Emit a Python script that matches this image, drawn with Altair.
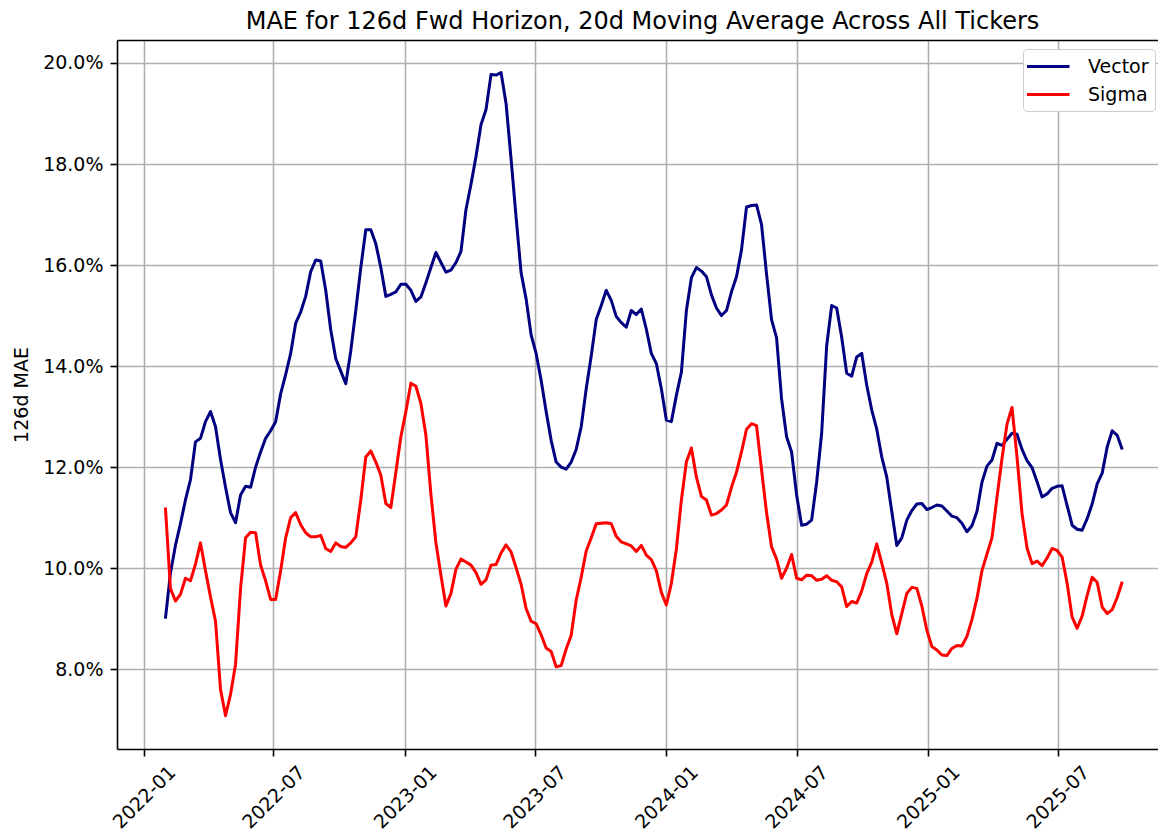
import altair as alt
import pandas as pd

# ---------------- data (weekly samples) ----------------
START_DATE = "2022-01-31"

vector = [
    9.0, 9.9, 10.45, 10.88, 11.35, 11.75, 12.5, 12.57, 12.9, 13.1,
    12.8, 12.15, 11.6, 11.1, 10.9, 11.45, 11.62, 11.6, 12.0, 12.3,
    12.57, 12.72, 12.9, 13.45, 13.83, 14.25, 14.85, 15.07, 15.38, 15.87,
    16.1, 16.08, 15.5, 14.72, 14.15, 13.9, 13.65, 14.3, 15.1, 15.95,
    16.7, 16.7, 16.42, 15.95, 15.38, 15.42, 15.47, 15.62, 15.62, 15.5,
    15.28, 15.37, 15.65, 15.95, 16.25, 16.05, 15.86, 15.9, 16.05, 16.27,
    17.1, 17.6, 18.15, 18.78, 19.08, 19.77, 19.76, 19.81, 19.2, 18.1,
    16.95, 15.85, 15.33, 14.62, 14.25, 13.72, 13.1, 12.53, 12.1, 12.0,
    11.96, 12.1, 12.35, 12.8, 13.55, 14.2, 14.92, 15.2, 15.5, 15.3,
    14.98, 14.86, 14.77, 15.1, 15.02, 15.13, 14.73, 14.25, 14.05, 13.55,
    12.93, 12.9, 13.42, 13.88, 15.1, 15.75, 15.95, 15.88, 15.77, 15.41,
    15.15, 15.0, 15.1, 15.47, 15.77, 16.3, 17.15, 17.18, 17.19, 16.8,
    15.82, 14.92, 14.56, 13.35, 12.6, 12.3, 11.45, 10.85, 10.87, 10.95,
    11.7, 12.67, 14.4, 15.2, 15.15, 14.57, 13.86, 13.8, 14.18, 14.25,
    13.62, 13.13, 12.75, 12.2, 11.8, 11.12, 10.45, 10.6, 10.95, 11.14,
    11.27, 11.28, 11.16, 11.2, 11.25, 11.23, 11.13, 11.03, 11.0, 10.89,
    10.72, 10.84, 11.12, 11.7, 12.02, 12.14, 12.47, 12.43, 12.55, 12.67,
    12.65, 12.35, 12.13, 11.99, 11.71, 11.41, 11.47, 11.58, 11.62, 11.63,
    11.24, 10.85, 10.77, 10.75, 10.98, 11.27, 11.67, 11.88, 12.4, 12.72,
    12.63, 12.35,
]

sigma = [
    11.2, 9.6, 9.35, 9.48, 9.8, 9.75, 10.08, 10.5, 9.95, 9.43,
    8.95, 7.6, 7.08, 7.5, 8.1, 9.6, 10.6, 10.71, 10.7, 10.06,
    9.75, 9.38, 9.38, 9.95, 10.6, 11.0, 11.1, 10.86, 10.7, 10.62,
    10.62, 10.65, 10.39, 10.33, 10.5, 10.43, 10.41, 10.5, 10.62, 11.35,
    12.2, 12.32, 12.1, 11.84, 11.28, 11.2, 11.9, 12.6, 13.1, 13.66,
    13.6, 13.26, 12.63, 11.46, 10.5, 9.86, 9.25, 9.5, 9.98, 10.18,
    10.12, 10.06, 9.91, 9.68, 9.77, 10.06, 10.07, 10.3, 10.46, 10.32,
    10.01, 9.68, 9.2, 8.95, 8.9, 8.68, 8.42, 8.35, 8.05, 8.07,
    8.4, 8.67, 9.37, 9.82, 10.34, 10.6, 10.88, 10.89, 10.9, 10.88,
    10.63, 10.52, 10.48, 10.44, 10.33, 10.45, 10.26, 10.17, 9.95, 9.52,
    9.27, 9.7, 10.38, 11.35, 12.1, 12.38, 11.8, 11.42, 11.35, 11.05,
    11.08, 11.15, 11.25, 11.6, 11.9, 12.3, 12.75, 12.86, 12.82, 11.95,
    11.1, 10.42, 10.18, 9.8, 10.0, 10.27, 9.8, 9.77, 9.86, 9.85,
    9.76, 9.78, 9.85, 9.76, 9.73, 9.63, 9.24, 9.34, 9.31, 9.55,
    9.89, 10.12, 10.48, 10.1, 9.7, 9.08, 8.7, 9.1, 9.5, 9.62,
    9.6, 9.25, 8.77, 8.45, 8.38, 8.28, 8.27, 8.41, 8.47, 8.46,
    8.65, 8.98, 9.4, 9.95, 10.28, 10.6, 11.4, 12.17, 12.85, 13.18,
    12.2, 11.08, 10.4, 10.09, 10.14, 10.05, 10.2, 10.39, 10.35, 10.22,
    9.7, 9.03, 8.81, 9.05, 9.46, 9.82, 9.72, 9.23, 9.1, 9.18,
    9.42, 9.73,
]

series_names = ["Vector", "Sigma"]
series_colors = ["#000080", "#ff0000"]
y_ticks = [8, 10, 12, 14, 16, 18, 20]
x_tick_months = [(2022, 1), (2022, 7), (2023, 1), (2023, 7),
                 (2024, 1), (2024, 7), (2025, 1), (2025, 7)]
TITLE = "MAE for 126d Fwd Horizon, 20d Moving Average Across All Tickers"
Y_TITLE = "126d MAE"

# ---------------- table ----------------
dates = pd.date_range(START_DATE, periods=len(vector), freq="7D").strftime("%Y-%m-%d")
df = pd.concat([
    pd.DataFrame({"date": dates, "value": vector, "series": "Vector"}),
    pd.DataFrame({"date": dates, "value": sigma, "series": "Sigma"}),
], ignore_index=True)

FONT = "DejaVu Sans"
FS = 19
W, H = 1041, 709

xscale = alt.Scale(
    type="utc",
    domain=[alt.DateTime(year=2021, month=11, date=24, hours=8, utc=True),
            alt.DateTime(year=2025, month=11, date=18, utc=True)],
)
yscale = alt.Scale(domain=[6.42, 20.455], nice=False, zero=False)
color_scale = alt.Scale(domain=series_names, range=series_colors)

legend = alt.Legend(
    orient="none", legendX=906, legendY=9, title=None,
    symbolType="M-1.35,0H2.9", symbolSize=400, symbolStrokeWidth=3,
    labelFontSize=FS, labelFont=FONT, labelColor="black", labelOffset=36,
    rowPadding=6, padding=6, strokeColor="#cccccc", fillColor="white",
    cornerRadius=4,
)

x_bottom = alt.X(
    "date:T", scale=xscale, title=None,
    axis=alt.Axis(
        values=[alt.DateTime(year=y, month=m, date=1, utc=True) for y, m in x_tick_months],
        format="%Y-%m", labelAngle=-45, labelAlign="center", labelBaseline="middle",
        labelPadding=41, labelFlush=False, labelOverlap=False, labelFontSize=FS,
        tickSize=7, grid=True, title=None,
    ),
)
x_top = alt.X(
    "date:T", scale=xscale, title=None,
    axis=alt.Axis(orient="top", labels=False, ticks=False, grid=False, domain=True, title=None),
)
y_axis = alt.Axis(
    values=y_ticks, labelExpr="format(datum.value, '.1f') + '%'",
    labelFontSize=FS, labelPadding=7, tickSize=7, grid=True,
    title=Y_TITLE, titleFontSize=FS, titleFontWeight="normal",
    titleX=-86, titleY=H / 2, titleAngle=-90, titleAlign="center",
    titleBaseline="bottom",
)
y_enc = alt.Y("value:Q", scale=yscale, title=Y_TITLE, axis=y_axis)

base = alt.Chart(df)
vec_line = base.transform_filter(alt.datum.series == "Vector").mark_line(
    strokeWidth=3, strokeJoin="round"
).encode(
    x=x_bottom, y=y_enc,
    color=alt.Color("series:N", scale=color_scale, legend=legend),
)
sig_line = base.transform_filter(alt.datum.series == "Sigma").mark_line(
    strokeWidth=3, strokeJoin="round"
).encode(
    x=x_top, y=y_enc,
    color=alt.Color("series:N", scale=color_scale, legend=legend),
)

chart = alt.layer(vec_line, sig_line).resolve_axis(x="independent", y="shared").properties(
    width=W, height=H,
    title=alt.TitleParams(TITLE, fontSize=24, font=FONT, fontWeight="normal",
                          anchor="middle", frame="group", offset=6, dx=5, color="black"),
    autosize=alt.AutoSizeParams(type="none"),
    padding={"left": 109, "top": 32, "right": 0, "bottom": 83},
).configure_view(stroke=None).configure_axis(
    domainColor="black", domainWidth=1.6, tickColor="black", tickWidth=1.6,
    gridColor="#b0b0b0", gridWidth=1.6, labelFont=FONT, titleFont=FONT,
    labelColor="black", titleColor="black",
)

chart.save("out.html", embed_options={"renderer": "svg", "actions": False})
